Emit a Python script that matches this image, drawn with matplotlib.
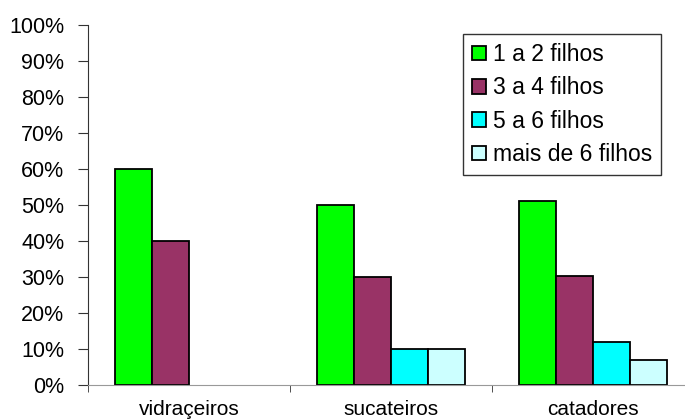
import matplotlib.pyplot as plt
import numpy as np
from matplotlib.ticker import FixedLocator, FuncFormatter

# Dados: percentual de famílias por número de filhos
categorias = ['vidraçeiros', 'sucateiros', 'catadores']
series = ['1 a 2 filhos', '3 a 4 filhos', '5 a 6 filhos', 'mais de 6 filhos']
um_a_dois = [60, 50, 51]
tres_a_quatro = [40, 30, 30.3]
cinco_a_seis = [0, 10, 12]
mais_de_seis = [0, 10, 7]
cores = ['#00FF00', '#993366', '#00FFFF', '#CCFFFF']

plt.rcParams['font.family'] = ['Liberation Sans', 'DejaVu Sans']

fig = plt.figure(figsize=(6.85, 4.19), dpi=100)
ax = fig.add_axes([88 / 685, 34 / 419, 606 / 685, 360 / 419])

valores = [um_a_dois, tres_a_quatro, cinco_a_seis, mais_de_seis]
x = np.arange(len(categorias))
largura = 0.183
for i, (nome, vals, cor) in enumerate(zip(series, valores, cores)):
    pos = x + (i - 1.5) * largura
    vals = np.array(vals, dtype=float)
    # barras com valor zero não são desenhadas
    vals = np.where(vals > 0, vals, np.nan)
    ax.bar(pos, vals, largura, color=cor, edgecolor='black', linewidth=1.3,
           label=nome)

ax.set_xlim(-0.5, 2.5)
ax.set_ylim(0, 100)
ax.set_yticks(range(0, 101, 10))
ax.yaxis.set_major_formatter(FuncFormatter(lambda v, _: f'{int(v)}%'))
ax.set_xticks(x)
ax.set_xticklabels(categorias)
ax.xaxis.set_minor_locator(FixedLocator([-0.5, 0.5, 1.5, 2.5]))
ax.tick_params(axis='x', which='major', length=0, pad=11, labelsize=15)
ax.tick_params(axis='x', which='minor', length=5, direction='out', color='#333333')
ax.tick_params(axis='y', length=7, direction='out', labelsize=15.5, pad=10,
               color='#333333')

for lado in ['top', 'right']:
    ax.spines[lado].set_visible(False)
ax.spines['left'].set_color('#333333')
ax.spines['bottom'].set_color('#999999')

leg = ax.legend(loc='upper left', bbox_to_anchor=((463 - 88) / 606, (385 - 34) / 360),
                frameon=True, fancybox=False, edgecolor='black', fontsize=16.5,
                handlelength=0.6, handleheight=0.6, handletextpad=0.3,
                labelspacing=0.45, borderpad=0.4, borderaxespad=0)
leg.get_frame().set_linewidth(1.0)

fig.savefig('out.png', dpi=100)
